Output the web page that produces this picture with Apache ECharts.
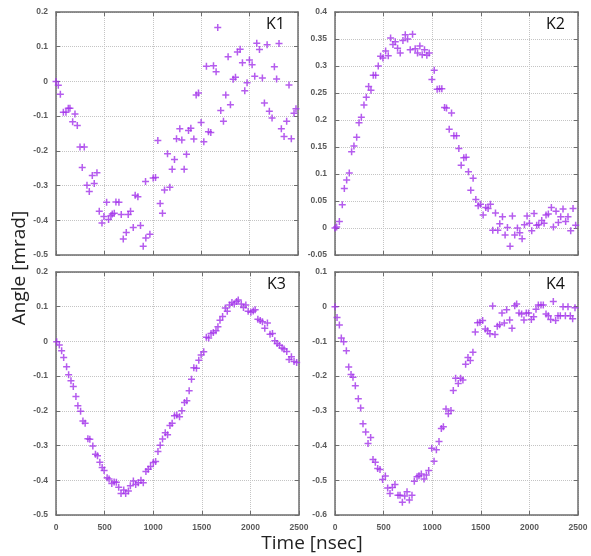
<!DOCTYPE html>
<html>
<head>
<meta charset="utf-8">
<script src="https://cdn.jsdelivr.net/npm/echarts@6/dist/echarts.min.js"></script>
<style>html,body{margin:0;padding:0;background:#fff;}#c{width:591px;height:556px;}</style>
</head>
<body>
<div id="c"></div>
<script>
// ---- data (time in nsec, angle in mrad) ----
const panelNames = ['K1', 'K2', 'K3', 'K4'];
const xTicks = [0, 500, 1000, 1500, 2000, 2500];

const k1Time = [0,24,45,76,103,127,144,172,196,220,248,271,292,320,344,375,395,423,447,475,495,523,543,567,581,602,619,650,674,695,726,746,770,798,818,846,873,901,925,928,970,1004,1028,1052,1076,1100,1121,1152,1176,1200,1224,1245,1279,1300,1324,1348,1369,1393,1424,1448,1472,1499,1527,1554,1575,1599,1627,1654,1671,1702,1730,1754,1778,1802,1830,1854,1874,1902,1926,1950,1974,1998,2026,2053,2074,2102,2132,2153,2181,2204,2232,2256,2279,2304,2328,2356,2383,2407,2431,2459,2479];
const k1Angle = [0,-0.011,-0.037,-0.089,-0.089,-0.077,-0.077,-0.116,-0.094,-0.127,-0.189,-0.248,-0.189,-0.299,-0.317,-0.271,-0.294,-0.263,-0.374,-0.408,-0.389,-0.348,-0.398,-0.387,-0.382,-0.38,-0.347,-0.348,-0.383,-0.454,-0.435,-0.383,-0.374,-0.421,-0.328,-0.332,-0.415,-0.475,-0.288,-0.451,-0.44,-0.278,-0.277,-0.17,-0.352,-0.38,-0.313,-0.208,-0.305,-0.253,-0.225,-0.165,-0.136,-0.169,-0.253,-0.21,-0.141,-0.135,-0.166,-0.039,-0.033,-0.118,-0.174,0.044,-0.145,-0.147,0.045,0.028,0.155,-0.084,-0.115,-0.039,0.071,-0.067,0.006,0.012,0.085,0.093,0.054,-0.027,-0.004,0.062,0.048,0.015,0.11,0.092,0.01,-0.062,0.106,-0.086,-0.105,0.042,0.007,0.109,-0.136,-0.159,-0.115,-0.01,-0.165,-0.092,-0.079];

const k2Time = [0,17,45,75,96,120,147,171,195,223,247,271,298,322,346,370,394,418,445,469,493,521,548,572,596,620,644,671,699,723,747,774,798,825,849,873,897,921,945,969,997,1021,1051,1075,1099,1127,1147,1175,1199,1223,1250,1274,1298,1325,1349,1373,1397,1421,1449,1473,1497,1524,1551,1575,1599,1623,1651,1675,1695,1723,1750,1774,1801,1825,1849,1877,1901,1925,1949,1976,2000,2024,2048,2075,2096,2127,2151,2171,2195,2226,2247,2274,2298,2322,2346,2373,2397,2425,2449,2476];
const k2Angle = [0,0.002,0.012,0.043,0.073,0.089,0.102,0.141,0.152,0.168,0.195,0.205,0.228,0.242,0.262,0.255,0.283,0.283,0.3,0.318,0.315,0.328,0.319,0.352,0.34,0.345,0.333,0.324,0.347,0.358,0.35,0.33,0.359,0.332,0.324,0.337,0.321,0.33,0.32,0.324,0.275,0.292,0.257,0.258,0.258,0.223,0.222,0.183,0.213,0.171,0.171,0.147,0.116,0.13,0.131,0.104,0.07,0.092,0.053,0.041,0.044,0.024,0.038,0.036,0.044,-0.004,0.028,-0.004,0.008,0.021,-0.013,0.001,-0.034,0.022,-0.013,0,-0.009,-0.02,0.006,0.022,0.009,-0.005,0.027,0.005,0.006,0.014,0.009,0.024,0.026,0.038,0.002,0.031,0.01,0.021,0.035,0.012,0.021,-0.005,0.036,0.005];

const k3Time = [7,34,58,79,109,130,154,178,205,225,253,277,300,328,348,379,406,427,451,475,495,526,546,574,598,621,645,669,697,717,745,765,796,820,847,874,898,925,949,973,1001,1025,1049,1072,1096,1124,1148,1172,1195,1219,1243,1271,1295,1322,1346,1370,1394,1418,1445,1469,1493,1520,1547,1571,1595,1619,1646,1666,1687,1714,1742,1762,1786,1810,1834,1858,1875,1906,1929,1953,1977,2005,2029,2049,2077,2101,2124,2148,2175,2202,2227,2251,2275,2299,2326,2346,2374,2398,2422,2449,2476];
const k3Angle = [-0.001,-0.01,-0.027,-0.046,-0.073,-0.096,-0.113,-0.13,-0.159,-0.185,-0.201,-0.229,-0.236,-0.28,-0.282,-0.301,-0.325,-0.329,-0.348,-0.363,-0.372,-0.393,-0.396,-0.409,-0.405,-0.406,-0.42,-0.438,-0.428,-0.438,-0.431,-0.416,-0.402,-0.412,-0.407,-0.4,-0.407,-0.375,-0.368,-0.36,-0.349,-0.346,-0.317,-0.299,-0.281,-0.263,-0.269,-0.242,-0.236,-0.214,-0.212,-0.217,-0.2,-0.176,-0.171,-0.142,-0.109,-0.076,-0.077,-0.054,-0.039,-0.03,0.012,0.01,0.023,0.026,0.031,0.042,0.061,0.072,0.096,0.087,0.105,0.112,0.108,0.115,0.119,0.108,0.098,0.105,0.087,0.084,0.088,0.091,0.064,0.06,0.057,0.038,0.053,0.021,0.023,0.002,-0.006,-0.011,-0.019,-0.022,-0.029,-0.052,-0.044,-0.058,-0.061];

const k4Time = [0,21,45,65,89,117,141,165,185,209,240,264,288,316,340,367,391,415,439,463,490,518,542,566,590,617,648,669,693,717,741,765,792,816,844,864,888,916,940,964,995,1019,1043,1070,1094,1115,1142,1166,1193,1217,1241,1268,1292,1316,1344,1368,1392,1419,1443,1467,1491,1519,1546,1570,1594,1622,1646,1670,1694,1718,1742,1766,1797,1821,1849,1869,1893,1920,1944,1968,1992,2020,2044,2068,2092,2119,2143,2171,2195,2219,2246,2270,2294,2318,2346,2370,2397,2421,2445,2469];
const k4Angle = [0,-0.031,-0.053,-0.09,-0.101,-0.127,-0.174,-0.195,-0.203,-0.228,-0.265,-0.292,-0.337,-0.361,-0.394,-0.377,-0.44,-0.448,-0.466,-0.469,-0.498,-0.488,-0.522,-0.538,-0.521,-0.512,-0.543,-0.543,-0.563,-0.545,-0.533,-0.557,-0.543,-0.503,-0.49,-0.487,-0.482,-0.496,-0.485,-0.472,-0.408,-0.445,-0.412,-0.388,-0.351,-0.346,-0.295,-0.308,-0.299,-0.241,-0.206,-0.221,-0.206,-0.211,-0.166,-0.146,-0.155,-0.131,-0.073,-0.046,-0.045,-0.04,-0.064,-0.069,-0.078,0.002,-0.08,-0.056,-0.052,-0.018,-0.047,-0.009,-0.038,-0.062,0.003,0.008,-0.018,-0.021,-0.038,-0.018,-0.018,-0.037,-0.029,-0.007,0.005,0.005,0.005,-0.021,-0.026,-0.037,0.015,-0.04,-0.026,-0.026,0,-0.026,0,-0.026,-0.035,-0.003];

// y-axis ranges per panel [min, max, interval]
const yRanges = [[-0.5, 0.2, 0.1], [-0.05, 0.4, 0.05], [-0.5, 0.2, 0.1], [-0.6, 0.1, 0.1]];

// ---- build chart ----
const times = [k1Time, k2Time, k3Time, k4Time];
const angles = [k1Angle, k2Angle, k3Angle, k4Angle];
const grids = [
  {left: 56, top: 12, width: 242, height: 243},
  {left: 335, top: 12, width: 243, height: 243},
  {left: 56, top: 272, width: 243, height: 243},
  {left: 335, top: 272, width: 243, height: 243}
];
const lineCol = '#6e6e6e';
const labelStyle = {fontSize: 8.5, fontWeight: 'bold', color: '#5a5a5a', fontFamily: 'Liberation Sans, Arial, sans-serif'};
const plus = 'path://M2.75,0H4.25V2.75H7V4.25H4.25V7H2.75V4.25H0V2.75H2.75Z';
const fmt = v => String(Math.round(v * 1000) / 1000);

const xAxis = [], yAxis = [], series = [], graphic = [];
grids.forEach((g, i) => {
  const showX = i >= 2;
  const [ymin, ymax, yint] = yRanges[i];
  const axLine = {show: true, onZero: false, lineStyle: {color: lineCol, width: 1.5}};
  const tick = {show: true, inside: true, length: 4, lineStyle: {color: lineCol}};
  const split = {show: true, lineStyle: {type: 'dotted', color: '#c4c4c4', width: 1}};
  xAxis.push({
    gridIndex: i, type: 'value', min: xTicks[0], max: xTicks[xTicks.length - 1], interval: xTicks[1] - xTicks[0],
    position: 'bottom', axisLine: axLine, axisTick: tick,
    axisLabel: Object.assign({show: showX, margin: 8, formatter: fmt}, labelStyle),
    splitLine: split
  });
  xAxis.push({
    gridIndex: i, type: 'value', min: xTicks[0], max: xTicks[xTicks.length - 1], interval: xTicks[1] - xTicks[0],
    position: 'top', axisLine: axLine, axisTick: tick,
    axisLabel: {show: false}, splitLine: {show: false}
  });
  yAxis.push({
    gridIndex: i, type: 'value', min: ymin, max: ymax, interval: yint, position: 'left',
    axisLine: axLine, axisTick: tick,
    axisLabel: Object.assign({show: true, margin: 8, formatter: fmt}, labelStyle),
    splitLine: split
  });
  yAxis.push({
    gridIndex: i, type: 'value', min: ymin, max: ymax, interval: yint, position: 'right',
    axisLine: axLine, axisTick: tick,
    axisLabel: {show: false}, splitLine: {show: false}
  });
  series.push({
    type: 'scatter', name: panelNames[i],
    xAxisIndex: 2 * i, yAxisIndex: 2 * i,
    symbol: plus, symbolSize: 7,
    itemStyle: {color: '#a233ea'},
    data: times[i].map((t, k) => [t, angles[i][k]]),
    silent: true, animation: false
  });
  graphic.push({
    type: 'text', right: 591 - (g.left + g.width) + 13, top: g.top + 4,
    style: {text: panelNames[i], fontSize: 16, fontFamily: 'Open Sans, sans-serif', fill: '#111'}
  });
});

graphic.push({
  type: 'text', x: 20, y: 268, rotation: Math.PI / 2,
  style: {text: 'Angle [mrad]', fontSize: 19, fontFamily: 'Open Sans, sans-serif', fill: '#222', align: 'center', verticalAlign: 'middle'}
});
graphic.push({
  type: 'text', x: 312, y: 544,
  style: {text: 'Time [nsec]', fontSize: 19, fontFamily: 'Open Sans, sans-serif', fill: '#222', align: 'center', verticalAlign: 'middle'}
});

const chart = echarts.init(document.getElementById('c'), null, {renderer: 'canvas'});
chart.setOption({
  backgroundColor: '#fff',
  animation: false,
  grid: grids.map(g => Object.assign({containLabel: false}, g)),
  xAxis, yAxis, series, graphic
});
</script>
</body>
</html>
